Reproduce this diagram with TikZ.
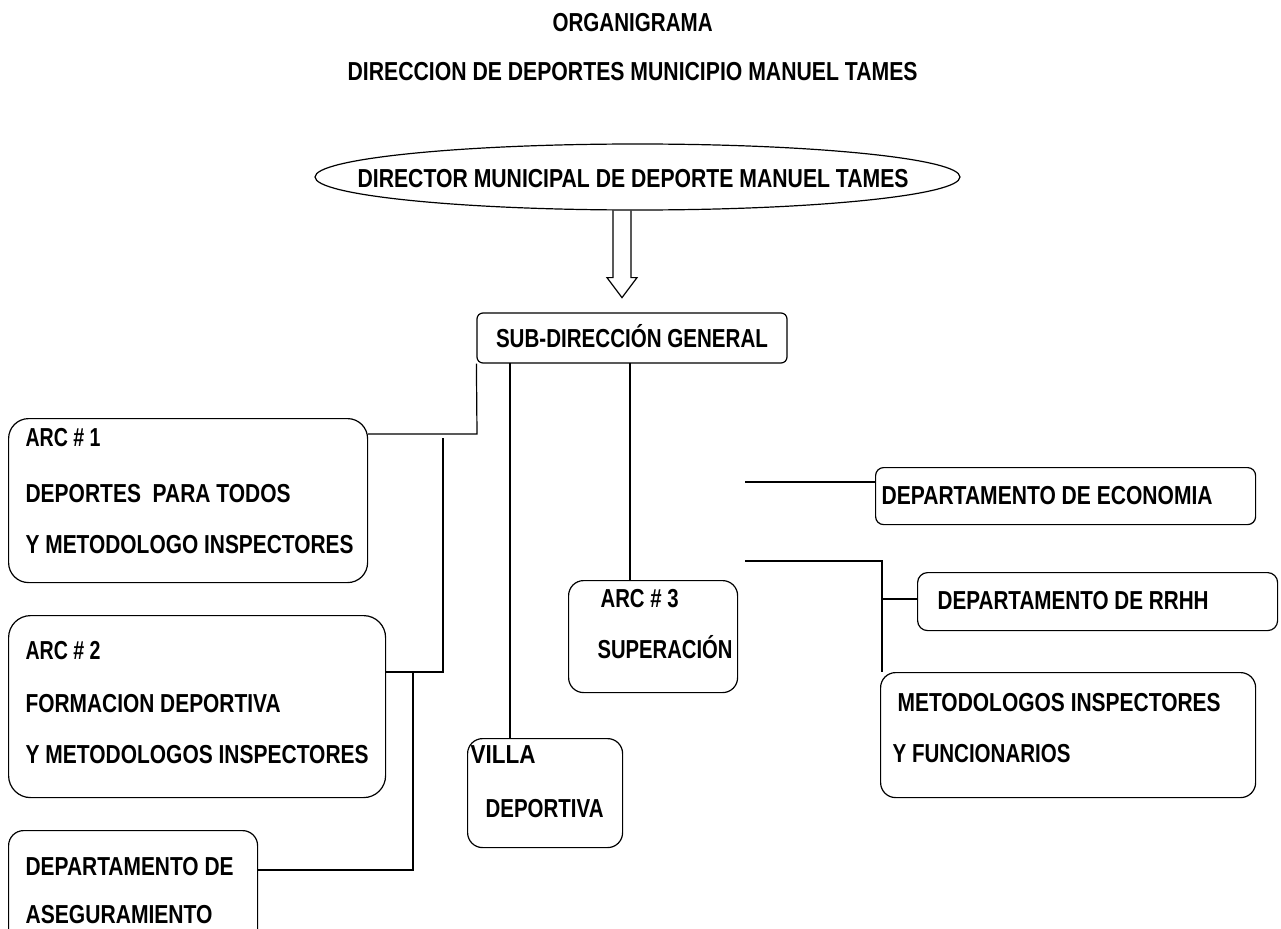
\documentclass[tikz,border=0pt]{standalone}
\usepackage{fontspec}
\setmainfont{Liberation Sans}
\usetikzlibrary{shapes.geometric,calc}
\newcommand{\fitw}[2]{\resizebox{#1pt}{\height}{#2}}
\begin{document}
\begin{tikzpicture}[x=1pt,y=-1pt,line width=1.2pt,
  box/.style={draw, rectangle, inner sep=0pt, anchor=north west},
  lbl/.style={inner sep=0pt, anchor=base west, font=\bfseries\fontsize{26}{30}\selectfont},
  conn/.style={draw, line width=1.2pt}]
\useasboundingbox (0,0) rectangle (1281,928);
\clip (0,0) rectangle (1281,928);

% titles
\node[lbl] (title) at (552,32) {\fitw{160}{ORGANIGRAMA}};
\node[lbl] (subtitle) at (347,81) {\fitw{570}{DIRECCION DE DEPORTES MUNICIPIO MANUEL TAMES}};

% director ellipse
\node[draw, ellipse, inner sep=0pt, minimum width=645pt, minimum height=66pt] (dir) at (637.5,177) {};
\node[lbl] (dirt) at (357,187) {\fitw{551}{DIRECTOR MUNICIPAL DE DEPORTE MANUEL TAMES}};

% hollow arrow
\draw[line join=miter] ($(dir.south)+(-24.5,0)$) -- ++(0,67) -- ++(-6,0) -- ++(15,20) -- ++(15,-20) -- ++(-6,0) -- ++(0,-67);

% sub-direccion
\node[draw, rectangle, rounded corners=6pt, inner sep=0pt, minimum width=310pt, minimum height=50pt,
      text height=18.6pt, text depth=0pt, font=\bfseries\fontsize{26}{30}\selectfont] (sub) at (632,338)
      {\fitw{272}{SUB-DIRECCIÓN GENERAL}};

% left boxes
\node[box, rounded corners=20pt, minimum width=359pt, minimum height=164pt] (arc1) at (8,418) {};
\node[lbl] (arc1a) at (25,446) {\fitw{75}{ARC \# 1}};
\node[lbl] (arc1b) at (25,502) {\fitw{265}{DEPORTES\ \ PARA TODOS}};
\node[lbl] (arc1c) at (25,553) {\fitw{328}{Y METODOLOGO INSPECTORES}};

\node[box, rounded corners=22pt, minimum width=377pt, minimum height=182pt] (arc2) at (8,615) {};
\node[lbl] (arc2a) at (25,659) {\fitw{75}{ARC \# 2}};
\node[lbl] (arc2b) at (25,712) {\fitw{255}{FORMACION DEPORTIVA}};
\node[lbl] (arc2c) at (25,763) {\fitw{343}{Y METODOLOGOS INSPECTORES}};

\node[box, rounded corners=15pt, minimum width=249pt, minimum height=120pt] (aseg) at (8,830) {};
\node[lbl] (aseg1) at (25,875) {\fitw{208}{DEPARTAMENTO DE}};
\node[lbl] (aseg2) at (25,923) {\fitw{187}{ASEGURAMIENTO}};

% middle boxes
\node[box, rounded corners=15pt, minimum width=155pt, minimum height=109pt] (villa) at (467,738) {};
\node[lbl] (villa1) at (470,763) {\fitw{65}{VILLA}};
\node[lbl] (villa2) at (485,817) {\fitw{118}{DEPORTIVA}};

\node[box, rounded corners=15pt, minimum width=169pt, minimum height=112pt] (arc3) at (568,580) {};
\node[lbl] (arc3a) at (600,607) {\fitw{78}{ARC \# 3}};
\node[lbl] (arc3b) at (597,658) {\fitw{135}{SUPERACIÓN}};

% right boxes
\node[box, rounded corners=8pt, minimum width=380pt, minimum height=57pt] (econ) at (875,467) {};
\node[lbl] (econt) at (881,504) {\fitw{331}{DEPARTAMENTO DE ECONOMIA}};

\node[box, rounded corners=10pt, minimum width=360pt, minimum height=58pt] (rrhh) at (917,572) {};
\node[lbl] (rrhht) at (937,609) {\fitw{271}{DEPARTAMENTO DE RRHH}};

\node[box, rounded corners=15pt, minimum width=375pt, minimum height=125pt] (metod) at (880,672) {};
\node[lbl] (metod1) at (897,711) {\fitw{323}{METODOLOGOS INSPECTORES}};
\node[lbl] (metod2) at (892,762) {\fitw{178}{Y FUNCIONARIOS}};

% connectors, left side
\coordinate (j1) at (477,434);
\draw[conn] (sub.south west) -- (j1) -- (j1 -| arc1.east);
\coordinate (j2t) at (443,438);
\coordinate (j2) at (443,672);
\draw[conn] (j2t) -- (j2) -- (j2 -| arc2.east);
\coordinate (j3t) at (413,672);
\coordinate (j3) at (413,870);
\draw[conn] (j3t) -- (j3) -- (j3 -| aseg.east);

% connectors, middle
\coordinate (v0) at (510,363);
\draw[conn] (v0) -- (v0 |- villa.north);
\coordinate (a0) at (630,363);
\draw[conn] (a0) -- (a0 |- arc3.north);

% connectors, right side
\coordinate (e0) at (745,482);
\draw[conn] (e0) -- (e0 -| econ.west);
\coordinate (r0) at (745,561);
\coordinate (rj) at (882,561);
\draw[conn] (r0) -- (rj) -- (rj |- metod.north);
\coordinate (rb) at (882,599);
\draw[conn] (rb) -- (rb -| rrhh.west);
\end{tikzpicture}
\end{document}
